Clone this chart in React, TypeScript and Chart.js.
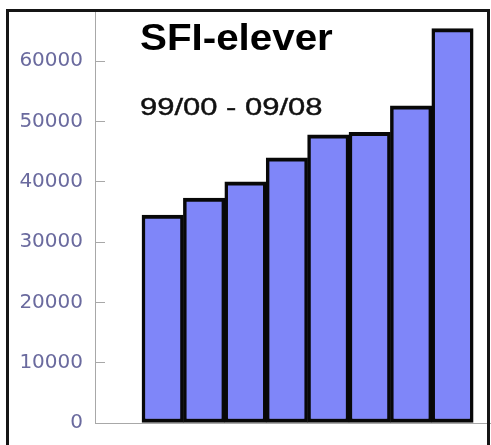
import { useEffect, useRef } from 'react';
import { Chart, registerables } from 'chart.js';

Chart.register(...registerables);

const categories = ['99/00', '00/01', '01/02', '02/03', '03/04', '04/05', '05/06', '06/07'];
const students = [34500, 37300, 40000, 44000, 47800, 48200, 52600, 65400];
const yTicks = [0, 10000, 20000, 30000, 40000, 50000, 60000];
const titleText = 'SFI-elever';
const subtitleText = '99/00 - 09/08';

export default function App() {
  const ref = useRef<HTMLCanvasElement>(null);

  useEffect(() => {
    if (!ref.current) return;
    const chart = new Chart(ref.current, {
      type: 'bar',
      data: {
        labels: categories,
        datasets: [
          {
            label: titleText,
            data: students.map((v, i) => ({ x: i, y: v })),
            backgroundColor: '#7f86f9',
            borderColor: '#080808',
            borderWidth: { top: 4, left: 3.5, right: 3.5, bottom: 4 },
            borderSkipped: false,
            barPercentage: 1,
            categoryPercentage: 1,
          },
        ],
      },
      options: {
        animation: false,
        responsive: false,
        maintainAspectRatio: false,
        layout: { padding: { top: 10, bottom: 22, left: 0, right: 0 } },
        plugins: { legend: { display: false }, tooltip: { enabled: false }, title: { display: false } },
        scales: {
          x: {
            type: 'linear',
            offset: false,
            min: -1.635,
            max: 7.93,
            ticks: { display: false, includeBounds: false, callback: (v: any) => categories[v] ?? '' },
            afterBuildTicks: (s: any) => {
              s.ticks = categories.map((_, i) => ({ value: i }));
            },
            grid: { display: false, drawTicks: false, offset: false },
            border: { display: true, color: '#a8a8a8', width: 1 },
            afterFit: (s: any) => {
              s.height = 0;
            },
          },
          y: {
            min: 0,
            max: 68500,
            afterBuildTicks: (s: any) => {
              s.ticks = yTicks.map((v) => ({ value: v }));
            },
            ticks: {
              includeBounds: false,
              padding: 22,
              color: '#6a6a9e',
              font: { family: '"DejaVu Sans"', size: 20 },
              callback: (v: any) => String(v),
            },
            grid: { display: true, drawOnChartArea: false, drawTicks: true, tickLength: -10, color: '#a8a8a8' },
            border: { display: true, color: '#a8a8a8', width: 1 },
            afterFit: (s: any) => {
              s.width = 95;
              s.paddingTop = 0;
              s.paddingBottom = 0;
            },
          },
        },
      },
    });
    return () => chart.destroy();
  }, []);

  return (
    <div style={{ position: 'fixed', left: 0, top: 0, width: 491, height: 445, overflow: 'hidden', background: '#fff' }}>
      <canvas ref={ref} width={491} height={445} style={{ position: 'absolute', left: 0, top: 0, display: 'block' }} />
      <div
        style={{
          position: 'absolute',
          left: 140,
          top: 18.7,
          fontFamily: '"Liberation Sans", Arial, sans-serif',
          fontWeight: 'bold',
          fontSize: 37,
          lineHeight: '37px',
          whiteSpace: 'nowrap',
          color: '#000',
          transform: 'scaleX(1.09)',
          transformOrigin: 'left top',
        }}
      >
        {titleText}
      </div>
      <div
        style={{
          position: 'absolute',
          left: 140,
          top: 94.7,
          fontFamily: '"Liberation Sans", Arial, sans-serif',
          fontSize: 24,
          lineHeight: '24px',
          whiteSpace: 'nowrap',
          color: '#111',
          WebkitTextStroke: '0.4px #111',
          transform: 'scaleX(1.29)',
          transformOrigin: 'left top',
        }}
      >
        {subtitleText}
      </div>
      <div
        style={{
          position: 'absolute',
          left: 6,
          top: 9,
          width: 484,
          height: 436,
          boxSizing: 'border-box',
          border: '3px solid #151515',
          borderBottom: 'none',
          pointerEvents: 'none',
        }}
      />
    </div>
  );
}
